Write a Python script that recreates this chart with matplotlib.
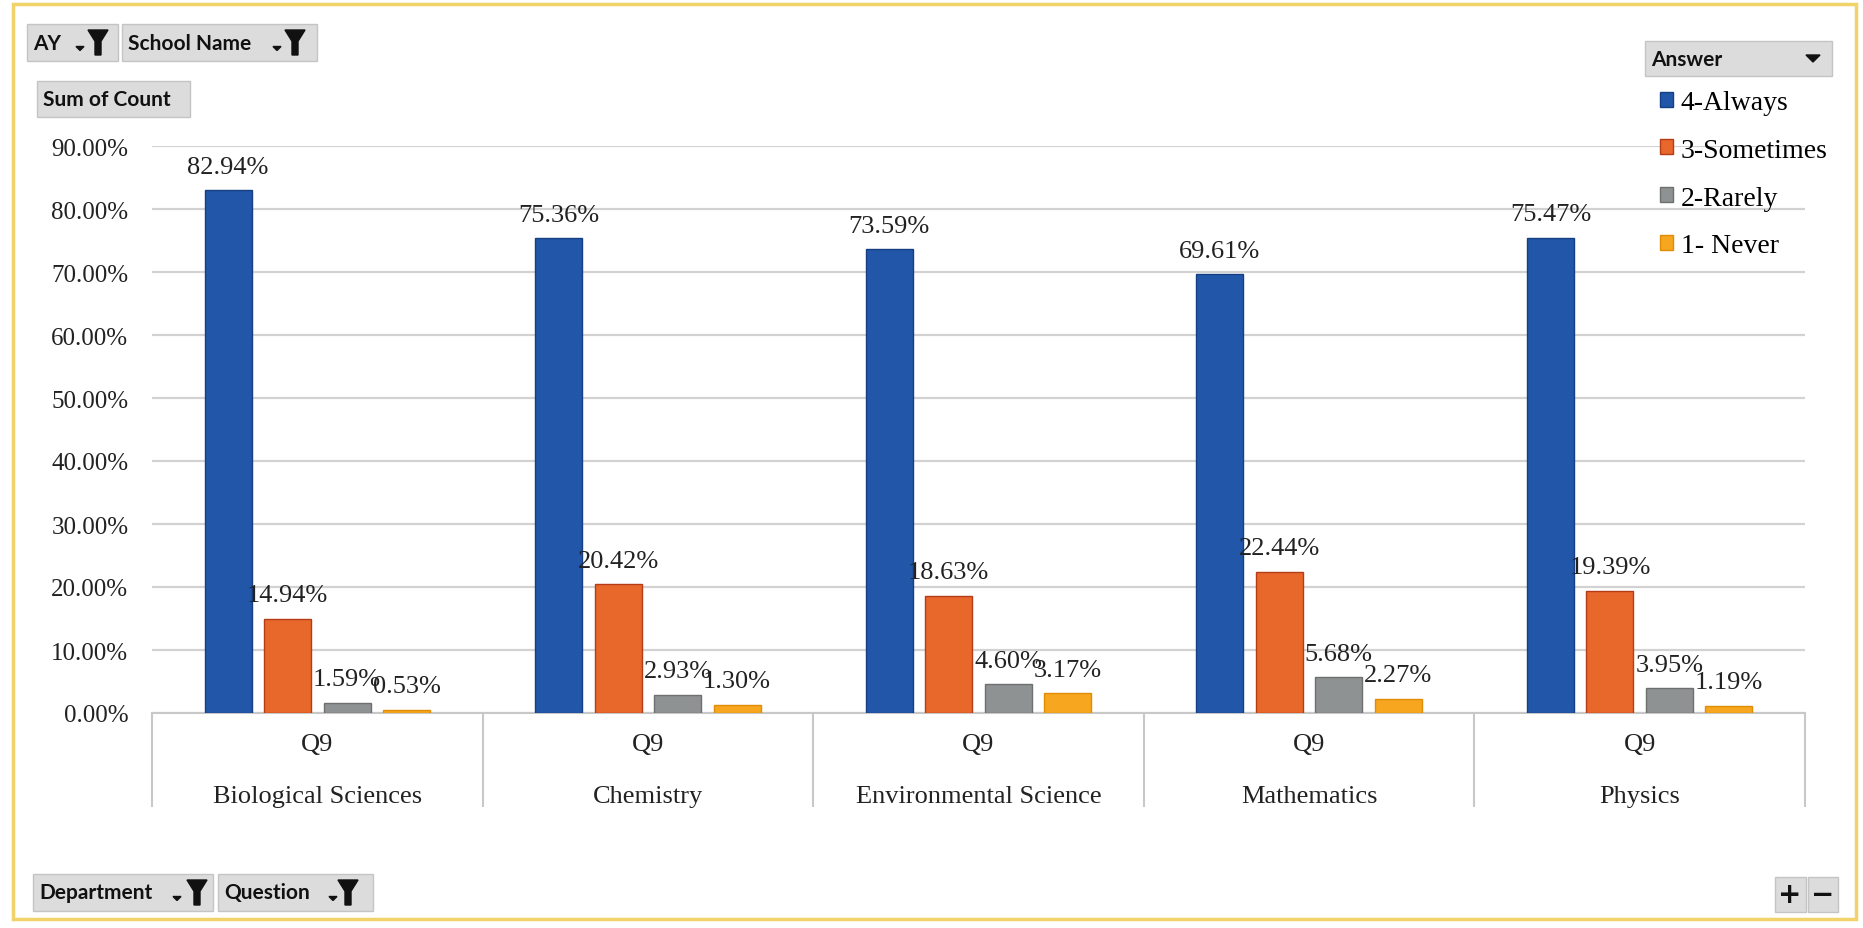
import numpy as np
import matplotlib
matplotlib.use('Agg')
import matplotlib.pyplot as plt
import matplotlib.transforms as mtransforms
from matplotlib.patches import Rectangle, Polygon

# data
departments = ['Biological Sciences', 'Chemistry', 'Environmental Science', 'Mathematics', 'Physics']
question = 'Q9'
answers = ['4-Always', '3-Sometimes', '2-Rarely', '1- Never']
always = [82.94, 75.36, 73.59, 69.61, 75.47]
sometimes = [14.94, 20.42, 18.63, 22.44, 19.39]
rarely = [1.59, 2.93, 4.60, 5.68, 3.95]
never = [0.53, 1.30, 3.17, 2.27, 1.19]
y_ticks = [0, 10, 20, 30, 40, 50, 60, 70, 80, 90]

series = [always, sometimes, rarely, never]
colors = ['#2156A8', '#E8672B', '#8F9292', '#F6A71F']
edges = ['#163E82', '#B43C16', '#6E7070', '#E08D05']

serif = 'Liberation Serif'
sans = 'Lato'

W, H = 1863, 929
fig = plt.figure(figsize=(W / 100, H / 100), dpi=100)
# transform for drawing in image pixels (origin top-left)
pix = mtransforms.Affine2D().scale(1 / W, -1 / H).translate(0, 1) + fig.transFigure

ax = fig.add_axes([152 / W, 1 - 714 / H, (1805 - 152) / W, (714 - 147) / H])

x = np.arange(len(departments))
pitch = 0.18
width = 0.142
for i, (vals, col, ec, lab) in enumerate(zip(series, colors, edges, answers)):
    bars = ax.bar(x + (i - 1.5) * pitch, vals, width, color=col, edgecolor=ec,
                  linewidth=1.0, label=lab, zorder=3)
    ax.bar_label(bars, labels=[f'{v:.2f}%' for v in vals], padding=9,
                 fontsize=19, family=serif, color='#222222')

ax.set_xlim(-0.5, len(departments) - 0.5)
ax.set_ylim(0, 90)
ax.set_yticks(y_ticks, [f'{t:.2f}%' for t in y_ticks], fontsize=18, family=serif, color='#222222')
ax.tick_params(axis='y', length=0, pad=17)
ax.grid(axis='y', color='#D2D2D2', linewidth=1.6, zorder=0)

# category axis: dividers as long minor ticks
ax.set_xticks([])
ax.set_xticks(np.arange(-0.5, len(departments), 1), minor=True)
ax.tick_params(axis='x', which='minor', length=68, width=1.5, color='#C8C8C8')
ax.spines[['left', 'right', 'top']].set_visible(False)
ax.spines['bottom'].set_color('#C8C8C8')
ax.spines['bottom'].set_linewidth(1.5)

xt = ax.get_xaxis_transform()
for xi, dep in zip(x, departments):
    ax.text(xi, -31 / 567, question, transform=xt, ha='center', va='center',
            fontsize=19, family=serif, color='#222222')
    ax.text(xi, -83 / 567, dep, transform=xt, ha='center', va='center',
            fontsize=19, family=serif, color='#222222')

# legend
handles, labels = ax.get_legend_handles_labels()
fig.legend(handles, labels, loc='upper left', bbox_to_anchor=(1660, 91),
           bbox_transform=pix, frameon=False,
           prop={'family': serif, 'size': 20}, handlelength=0.45, handleheight=0.45,
           handletextpad=0.3, labelspacing=0.82, borderpad=0, borderaxespad=0)


def button(x0, y0, x1, y1, text, funnel=None, arrow=None):
    fig.add_artist(Rectangle((x0, y0), x1 - x0, y1 - y0, transform=pix,
                             facecolor='#DCDCDC', edgecolor='#C4C4C4', lw=1))
    if text:
        fig.text(x0 + 6, (y0 + y1) / 2, text, transform=pix, ha='left', va='center',
                 fontsize=15, family=sans, fontweight='bold', color='#111111')
    if funnel is not None:
        cx, t, h = funnel, y0 + 6, y1 - y0 - 12
        pts = [(cx - 10, t), (cx + 10, t), (cx + 3, t + h * 0.45), (cx + 3, t + h),
               (cx - 3, t + h), (cx - 3, t + h * 0.45)]
        fig.add_artist(Polygon(pts, closed=True, transform=pix, color='#111111'))
    if arrow is not None:
        m = (y0 + y1) / 2 + 4
        fig.add_artist(Polygon([(arrow - 4, m), (arrow + 4, m), (arrow, m + 4)],
                               closed=True, transform=pix, color='#111111'))


button(27, 25, 118, 62, 'AY', funnel=98, arrow=80)
button(122, 25, 317, 62, 'School Name', funnel=295, arrow=277)
button(37, 82, 190, 118, 'Sum of Count')
button(33, 875, 213, 912, 'Department', funnel=197, arrow=177)
button(218, 875, 373, 912, 'Question', funnel=348, arrow=333)
button(1645, 42, 1832, 77, 'Answer')
fig.add_artist(Polygon([(1806, 56), (1820, 56), (1813, 63)], closed=True,
                       transform=pix, color='#111111'))
button(1775, 878, 1806, 913, None)
button(1808, 878, 1838, 913, None)
fig.text(1790, 895, '+', transform=pix, ha='center', va='center', fontsize=20,
         fontweight='bold', color='#111111')
fig.text(1823, 895, '\u2212', transform=pix, ha='center', va='center', fontsize=20,
         fontweight='bold', color='#111111')

# yellow outer frame
fig.add_artist(Rectangle((13, 5), 1843, 915, transform=pix, fill=False,
                         edgecolor='#F2D36A', lw=2.5))

fig.savefig('out.png', dpi=100)
